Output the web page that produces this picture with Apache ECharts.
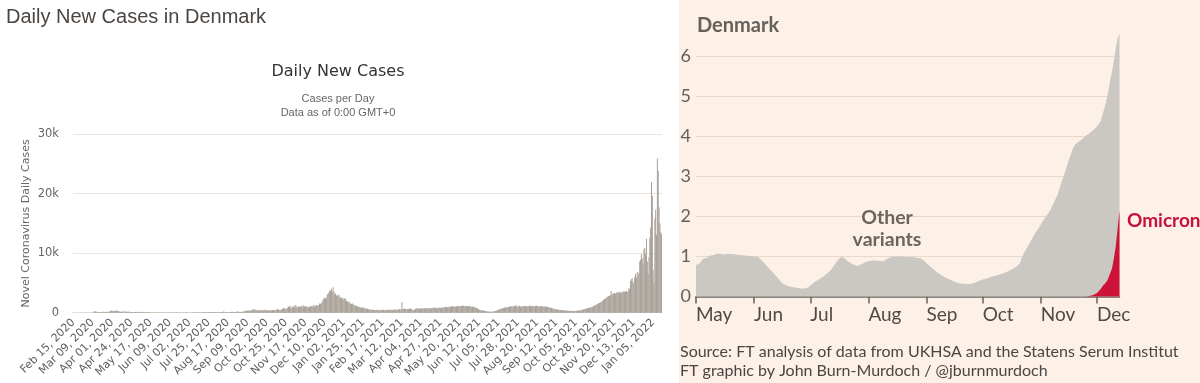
<!DOCTYPE html>
<html><head><meta charset="utf-8">
<script src="https://cdn.jsdelivr.net/npm/echarts@6/dist/echarts.min.js"></script>
<style>html,body{margin:0;padding:0;background:#fff}#c{width:1200px;height:383px}</style>
</head><body><div id="c"></div>
<script>
// ---------- Left chart: Daily New Cases in Denmark (worldometer-style) ----------
const leftStartDate = '2020-02-15';
const cases2020 = [
0,0,0,0,0,0,0, 0,0,0,0,0,1,0, 0,0,0,2,5,3,10, 13,4,16,40,252,264,94,
160,128,61,69,94,85,138, 170,149,88,134,164,153,123, 153,208,279,320,371,292,251,
242,312,323,390,289,251,213, 178,172,152,188,176,215,195, 139,160,142,176,147,123,128,
137,129,121,111,135,123,101, 156,121,104,90,142,110,83, 80,74,116,68,83,71,84,
66,53,49,46,39,58,42, 37,38,49,36,28,39,30, 26,36,39,44,40,27,28,
38,28,36,24,35,39,33, 40,22,31,46,43,37,37, 33,20,36,17,41,54,41,
44,25,22,20,10,35,40, 25,43,42,62,62,17,47, 41,80,56,42,54,109,53,
58,55,65,70,94,85,93, 68,99,123,97,91,100,136, 84,73,64,87,73,53,64,
121,97,125,99,252,99,74, 81,122,98,86,96,116,117, 147,116,100,133,130,164,184,
142,172,111,123,158,179,174, 195,286,309,335,328,307,353, 454,289,359,487,508,681,446,
482,401,339,430,458,477,400, 353,392,380,504,482,426,399, 342,434,384,462,349,417,463,
455,427,422,486,540,590,560, 402,470,482,526,660,760,743, 576,680,660,860,963,1076,1079,
813,879,1018,1090,866,1282,1179, 900,952,1051,982,1047,1100,1161, 852,1231,1008,1073,1062,962,987,
862,944,1132,1069,1063,1059,1278, 983,1212,1247,1251,1216,1303,1542, 1431,1581,1796,2158,2318,2536,2387,
2463,3023,3154,3381,3734,3690,4012, 3524,4282,3584,3108,3211,2874,2911, 2749,3046,2683,2405,2533,2458
];
const cases2021 = [
2142,
2389,2413,2280,1960,1850,1920,1680, 1710,1530,1460,1540,1390,1290,1180, 1210,1110,1030,980,1005,920,880,
865,810,900,760,712,690,715, 640,580,590,520,496,478,505, 512,460,440,471,495,448,402,
430,412,455,488,463,502,450, 465,440,480,495,428,461,530, 502,467,445,489,528,486,510,
497,540,502,612,534,574,1780, 641,589,690,665,612,560,625, 602,713,680,650,590,455,380,
480,612,760,702,685,720,656, 680,741,748,690,712,694,752, 731,760,810,722,759,684,798,
790,812,850,776,865,720,780, 812,846,870,825,795,830,910, 925,870,1012,965,904,883,980,
1020,962,1085,1010,1106,950,1040, 980,1108,1020,1126,1166,1060,1080, 1185,1105,1210,1090,1150,1020,1125,
1090,1140,1055,1180,1030,970,1010, 985,890,935,860,780,720,610, 510,470,430,395,380,350,310,
290,260,225,198,185,172,160, 140,158,185,212,240,280,310, 362,435,512,560,620,655,702,
748,795,820,902,870,936,880, 945,1020,986,1105,1060,1010,1122, 1180,1050,1292,1097,1012,1090,1154,
1018,1075,1002,1110,1130,1065,1120, 1084,1035,1128,1060,1195,1108,1045, 1150,1092,1106,1040,1130,1210,1090,
1075,1142,1005,1080,1162,1020,1060, 1010,1085,962,1032,980,945,890, 860,820,790,752,690,640,610,
580,560,530,512,490,470,455, 440,420,410,395,380,362,350, 342,330,318,305,298,310,296,
288,302,295,310,325,340,362, 380,405,430,465,498,535,572, 610,650,690,735,780,820,860,
905,950,1010,1080,1150,1290,1340, 1420,1500,1580,1620,1720,1810,1900, 2010,2150,2290,2380,2520,2600,2710,
2760,2850,2920,3650,3020,3150,3250, 3300,3150,3380,3420,3260,3510,3350, 3480,3400,3290,3520,3610,3460,3580,
3700,3520,3490,4100,3920,5320,5600, 5750,4850,5200,6010,6500,5810,6850, 6300,6700,8600,8900,9800,9100,8200,
10600,10900,9800,12400,8600,6500,9300
];
const cases2022 = [12600,14300,21900,19600,7200,5000,15800, 17300,13100,25900,23800,17700,15000,13500, 13200];
const leftYTicks = [0, 10000, 20000, 30000];

// ---------- Right chart: FT Denmark, Omicron vs other variants ----------
const rightStartDate = '2021-05-01';
const monthNames = ['Jan','Feb','Mar','Apr','May','Jun','Jul','Aug','Sep','Oct','Nov','Dec'];
const totalMay = [0.79,0.78,0.83,0.80,0.95,1.00,0.97,1.02,1.04,1.03,1.08,1.07,1.06,1.07,1.06,1.05,1.06,1.06,1.05,1.06,1.05,1.05,1.04,1.04,1.03,1.03,1.02,1.02,1.01,1.01,1.00];
const totalJun = [1.00,1.00,0.99,0.96,0.91,0.86,0.80,0.75,0.70,0.65,0.60,0.55,0.50,0.45,0.39,0.33,0.30,0.28,0.26,0.25,0.24,0.23,0.22,0.21,0.20,0.20,0.20,0.20,0.21,0.23];
const totalJul = [0.27,0.31,0.35,0.38,0.41,0.44,0.47,0.50,0.54,0.58,0.62,0.66,0.73,0.80,0.87,0.93,0.97,1.00,0.97,0.92,0.87,0.85,0.83,0.80,0.77,0.76,0.78,0.80,0.83,0.85,0.86];
const totalAug = [0.88,0.89,0.90,0.91,0.90,0.89,0.89,0.88,0.88,0.91,0.94,0.96,0.98,0.99,1.00,1.00,1.00,0.99,1.00,1.00,0.99,1.00,0.99,0.99,0.98,0.97,0.97,0.96,0.95,0.92,0.88];
const totalSep = [0.84,0.79,0.75,0.71,0.67,0.63,0.60,0.56,0.53,0.50,0.47,0.45,0.43,0.41,0.39,0.37,0.35,0.34,0.33,0.32,0.32,0.31,0.31,0.31,0.32,0.33,0.35,0.37,0.39,0.41];
const totalOct = [0.43,0.44,0.45,0.46,0.48,0.50,0.51,0.52,0.54,0.55,0.56,0.58,0.60,0.62,0.64,0.66,0.68,0.71,0.75,0.79,0.85,0.98,1.08,1.17,1.25,1.33,1.42,1.50,1.58,1.65,1.72];
const totalNov = [1.80,1.88,1.95,2.02,2.08,2.15,2.25,2.35,2.45,2.55,2.70,2.85,2.98,3.12,3.28,3.42,3.55,3.68,3.78,3.83,3.86,3.90,3.93,3.98,4.02,4.05,4.08,4.12,4.16,4.20];
const totalDec = [4.25,4.32,4.38,4.55,4.72,4.90,5.12,5.40,5.62,5.90,6.20,6.45,6.58];
const omicronNov = [0,0,0,0,0,0,0,0,0,0,0,0,0,0,0,0,0,0,0,0,0,0,0,0,0,0,0.01,0.02,0.04,0.06];
const omicronDec = [0.09,0.13,0.19,0.26,0.30,0.36,0.45,0.58,0.70,0.95,1.25,1.70,2.15];
const rightYTicks = [0,1,2,3,4,5,6];

// ---------- build ----------
const dailyCases = cases2020.concat(cases2021, cases2022);
const totalAll = totalMay.concat(totalJun, totalJul, totalAug, totalSep, totalOct, totalNov, totalDec);
const omicronAll = new Array(totalAll.length - omicronNov.length - omicronDec.length).fill(0).concat(omicronNov, omicronDec);

function dayList(startISO, n) {
  const d0 = Date.parse(startISO + 'T00:00:00Z'), out = [];
  for (let i = 0; i < n; i++) out.push(new Date(d0 + i * 86400000));
  return out;
}
const leftCats = dayList(leftStartDate, dailyCases.length).map(d =>
  monthNames[d.getUTCMonth()] + ' ' + String(d.getUTCDate()).padStart(2, '0') + ', ' + d.getUTCFullYear());
const rightCats = dayList(rightStartDate, totalAll.length).map(d => d.toISOString().slice(0, 10));
const isMonthStart = (i, v) => v.slice(8, 10) === '01';

const ftFont = 'Lato, "Open Sans", sans-serif';
const chart = echarts.init(document.getElementById('c'), null, {renderer: 'canvas'});
chart.setOption({
  animation: false,
  backgroundColor: '#ffffff',
  grid: [
    {left: 73, top: 134, width: 589, height: 178.7, containLabel: false},
    {left: 696, top: 56.5, width: 423.5, height: 240, containLabel: false}
  ],
  xAxis: [
    {
      type: 'category', gridIndex: 0, data: leftCats, boundaryGap: true,
      axisLine: {show: true, lineStyle: {color: '#e2dcd4', width: 1}},
      axisTick: {show: false},
      axisLabel: {interval: 22, rotate: 45, margin: 8, color: '#5e5e5e', fontSize: 11, fontFamily: '"DejaVu Sans", sans-serif'},
      splitLine: {show: false}
    },
    {
      type: 'category', gridIndex: 1, data: rightCats, boundaryGap: false,
      axisLine: {show: true, lineStyle: {color: '#66605c', width: 1.5}},
      axisTick: {show: true, interval: isMonthStart, length: 7, lineStyle: {color: '#66605c', width: 1.5}},
      axisLabel: {
        interval: isMonthStart, align: 'left', margin: 9, color: '#4f4a47', fontSize: 19, fontFamily: ftFont,
        formatter: v => monthNames[parseInt(v.slice(5, 7), 10) - 1]
      },
      splitLine: {show: false}
    }
  ],
  yAxis: [
    {
      type: 'value', gridIndex: 0, min: leftYTicks[0], max: leftYTicks[leftYTicks.length - 1], interval: 10000,
      name: 'Novel Coronavirus Daily Cases', nameLocation: 'middle', nameGap: 41,
      nameTextStyle: {color: '#666666', fontSize: 11, fontFamily: '"DejaVu Sans", sans-serif'},
      axisLine: {show: false}, axisTick: {show: false},
      axisLabel: {margin: 14, color: '#666666', fontSize: 11.5, fontFamily: '"DejaVu Sans", sans-serif',
        formatter: v => v === 0 ? '0' : (v / 1000) + 'k'},
      splitLine: {show: true, lineStyle: {color: '#ebe5dc', width: 1}}
    },
    {
      type: 'value', gridIndex: 1, min: rightYTicks[0], max: rightYTicks[rightYTicks.length - 1], interval: 1,
      axisLine: {show: false}, axisTick: {show: false},
      axisLabel: {margin: 5, color: '#66605c', fontSize: 18, fontFamily: ftFont},
      splitLine: {show: true, lineStyle: {color: '#e9d9cc', width: 1}}
    }
  ],
  series: [
    {
      type: 'bar', xAxisIndex: 0, yAxisIndex: 0, data: dailyCases, barCategoryGap: '15%',
      itemStyle: {color: '#a79f97'}, silent: true
    },
    {
      type: 'line', xAxisIndex: 1, yAxisIndex: 1, data: totalAll, symbol: 'none', clip: false,
      lineStyle: {width: 0}, areaStyle: {color: '#cbc7c2', opacity: 1}, silent: true, z: 2
    },
    {
      type: 'line', xAxisIndex: 1, yAxisIndex: 1, data: omicronAll, symbol: 'none', clip: false,
      lineStyle: {width: 0}, areaStyle: {color: '#cc1237', opacity: 1}, silent: true, z: 3
    }
  ],
  graphic: [
    {type: 'rect', z: -100, silent: true, shape: {x: 679, y: 0, width: 521, height: 383}, style: {fill: '#fdf0e6'}},
    {type: 'text', z: 100, x: 6, y: 17, style: {text: 'Daily New Cases in Denmark', fill: '#4b4542', font: '20px "Liberation Sans", Arial, sans-serif', align: 'left', verticalAlign: 'middle'}},
    {type: 'text', z: 100, x: 338, y: 72, style: {text: 'Daily New Cases', fill: '#333333', font: '16px "DejaVu Sans", sans-serif', align: 'center', verticalAlign: 'middle'}},
    {type: 'text', z: 100, x: 338, y: 99, style: {text: 'Cases per Day', fill: '#666666', font: '11px "Liberation Sans", Arial, sans-serif', align: 'center', verticalAlign: 'middle'}},
    {type: 'text', z: 100, x: 338, y: 113, style: {text: 'Data as of 0:00 GMT+0', fill: '#666666', font: '11px "Liberation Sans", Arial, sans-serif', align: 'center', verticalAlign: 'middle'}},
    {type: 'text', z: 100, x: 697, y: 26, style: {text: 'Denmark', fill: '#66605c', font: 'bold 20px ' + ftFont, align: 'left', verticalAlign: 'middle'}},
    {type: 'rect', z: 50, silent: true, shape: {x: 862, y: 210, width: 50, height: 16}, style: {fill: '#fdf0e6'}},
    {type: 'text', z: 100, x: 887, y: 218, style: {text: 'Other', fill: '#6b6561', font: 'bold 19.5px ' + ftFont, align: 'center', verticalAlign: 'middle'}},
    {type: 'text', z: 100, x: 887, y: 240, style: {text: 'variants', fill: '#6b6561', font: 'bold 19.5px ' + ftFont, align: 'center', verticalAlign: 'middle'}},
    {type: 'text', z: 100, x: 1127, y: 221, style: {text: 'Omicron', fill: '#c8113a', font: 'bold 19px ' + ftFont, align: 'left', verticalAlign: 'middle'}},
    {type: 'text', z: 100, x: 680, y: 352, style: {text: 'Source: FT analysis of data from UKHSA and the Statens Serum Institut', fill: '#4a4644', font: '16px ' + ftFont, align: 'left', verticalAlign: 'middle'}},
    {type: 'text', z: 100, x: 680, y: 371, style: {text: 'FT graphic by John Burn-Murdoch / @jburnmurdoch', fill: '#4a4644', font: '16px ' + ftFont, align: 'left', verticalAlign: 'middle'}}
  ]
});
</script></body></html>
